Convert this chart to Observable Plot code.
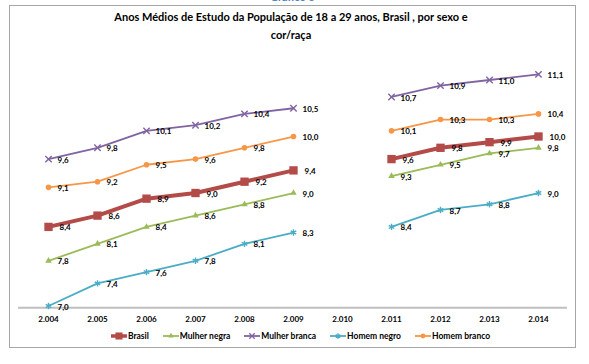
<!DOCTYPE html>
<html>
<head>
<meta charset="utf-8">
<script src="https://cdn.jsdelivr.net/npm/d3@7"></script>
<script src="https://cdn.jsdelivr.net/npm/@observablehq/plot@0.6"></script>
<style>
  html, body { margin: 0; padding: 0; background: #fff; }
  #wrap { position: relative; width: 589px; height: 364px; overflow: hidden; font-family: Lato, "Open Sans", sans-serif; }
  #chart { position: absolute; left: 0; top: 0; }
  #frame { position: absolute; left: 9px; top: 5px; width: 567px; height: 343px; box-sizing: border-box; border: 1px solid #a6a6a6; pointer-events: none; }
  #sup { position: absolute; left: 0; width: 585px; top: -9px; text-align: center; font-weight: bold; font-size: 11px; line-height: 12px; color: #4f81bd; }
  #title { position: absolute; left: 0; width: 582px; top: 8px; text-align: center; font-weight: bold; font-size: 11px; line-height: 18px; color: #000; }
  #legend { position: absolute; left: 0; width: 601px; top: 330px; display: flex; justify-content: center; gap: 14px; font-weight: bold; font-size: 8.5px; line-height: 12px; color: #000; }
  #legend .item { display: flex; align-items: center; }
  #legend svg { display: block; margin-right: 1px; }
</style>
</head>
<body>
<div id="wrap">
  <div id="chart"></div>
  <div id="sup">Gráfico 3</div>
  <div id="title">Anos Médios de Estudo da População de 18 a 29 anos, Brasil , por sexo e<br>cor/raça</div>
  <div id="frame"></div>
  <div id="legend"></div>
</div>
<script>
// ---- data ----
const years = ["2.004","2.005","2.006","2.007","2.008","2.009","2.010","2.011","2.012","2.013","2.014"];
const seriesNames = ["Brasil","Mulher negra","Mulher branca","Homem negro","Homem branco"];
const brasil       = [8.4, 8.6, 8.9, 9.0, 9.2, 9.4, null, 9.6, 9.8, 9.9, 10.0];
const mulherNegra  = [7.8, 8.1, 8.4, 8.6, 8.8, 9.0, null, 9.3, 9.5, 9.7, 9.8];
const mulherBranca = [9.6, 9.8, 10.1, 10.2, 10.4, 10.5, null, 10.7, 10.9, 11.0, 11.1];
const homemNegro   = [7.0, 7.4, 7.6, 7.8, 8.1, 8.3, null, 8.4, 8.7, 8.8, 9.0];
const homemBranco  = [9.1, 9.2, 9.5, 9.6, 9.8, 10.0, null, 10.1, 10.3, 10.3, 10.4];
const seriesValues = [brasil, mulherNegra, mulherBranca, homemNegro, homemBranco];

// ---- styles ----
const styles = {
  "Brasil":        {color: "#b34b48", width: 4,   symbol: "square",   r: 4.7, filled: true,  dx: 11},
  "Mulher negra":  {color: "#9bbb59", width: 1.8, symbol: "triangle", r: 2.4, filled: true,  dx: 9},
  "Mulher branca": {color: "#8064a2", width: 1.8, symbol: "times",    r: 3.0, filled: false, dx: 9},
  "Homem negro":   {color: "#4bacc6", width: 1.8, symbol: "asterisk", r: 3.0, filled: false, dx: 9},
  "Homem branco":  {color: "#f79646", width: 1.8, symbol: "circle",   r: 2.8, filled: true,  dx: 9}
};

const rows = [];
seriesNames.forEach((s, i) => {
  years.forEach((y, j) => rows.push({series: s, year: y, value: seriesValues[i][j]}));
});

const fmt = v => v.toFixed(1).replace(".", ",");
const yMin = 6.97;

const marks = [
  Plot.ruleY([yMin], {stroke: "#bfbfbf", strokeWidth: 2}),
  Plot.axisX({tickSize: 0, tickPadding: 9, fontWeight: "bold", fontSize: 8, fill: "#000", label: null})
];
seriesNames.forEach(s => {
  const st = styles[s];
  const d = rows.filter(r => r.series === s);
  const dv = d.filter(r => r.value != null);
  marks.push(Plot.line(d, {x: "year", y: "value", stroke: st.color, strokeWidth: st.width}));
  marks.push(Plot.dot(dv, {
    x: "year", y: "value", symbol: st.symbol, r: st.r,
    fill: st.filled ? st.color : "none",
    stroke: st.filled ? "none" : st.color,
    strokeWidth: st.filled ? 0 : 1.4
  }));
  marks.push(Plot.text(dv, {
    x: "year", y: "value", text: r => fmt(r.value), dx: st.dx, dy: 1,
    textAnchor: "start", fontWeight: "bold", fontSize: 8, fill: "#000"
  }));
});

const chart = Plot.plot({
  width: 589,
  height: 364,
  marginLeft: 18,
  marginRight: 22,
  marginTop: 51.25,
  marginBottom: 56.8,
  style: {fontFamily: "Lato, 'Open Sans', sans-serif", background: "transparent"},
  x: {type: "point", domain: years, padding: 0.5, axis: null, label: null},
  y: {domain: [yMin, 11.5], axis: null, label: null},
  marks
});
document.getElementById("chart").appendChild(chart);

// ---- legend ----
const legend = d3.select("#legend");
seriesNames.forEach(s => {
  const st = styles[s];
  const item = legend.append("div").attr("class", "item");
  const sv = item.append("svg").attr("width", 16).attr("height", 10);
  sv.append("line").attr("x1", 0).attr("x2", 16).attr("y1", 5).attr("y2", 5)
    .attr("stroke", st.color).attr("stroke-width", s === "Brasil" ? 3.5 : 1.8);
  const sym = {square: d3.symbolSquare, triangle: d3.symbolTriangle, times: d3.symbolTimes, asterisk: d3.symbolAsterisk, circle: d3.symbolCircle}[st.symbol];
  const size = Math.PI * (st.r * 0.85) ** 2;
  sv.append("path").attr("transform", "translate(8,5)")
    .attr("d", d3.symbol(sym, size)())
    .attr("fill", st.filled ? st.color : "none")
    .attr("stroke", st.filled ? "none" : st.color)
    .attr("stroke-width", 1.3);
  item.append("span").text(s);
});
</script>
</body>
</html>
